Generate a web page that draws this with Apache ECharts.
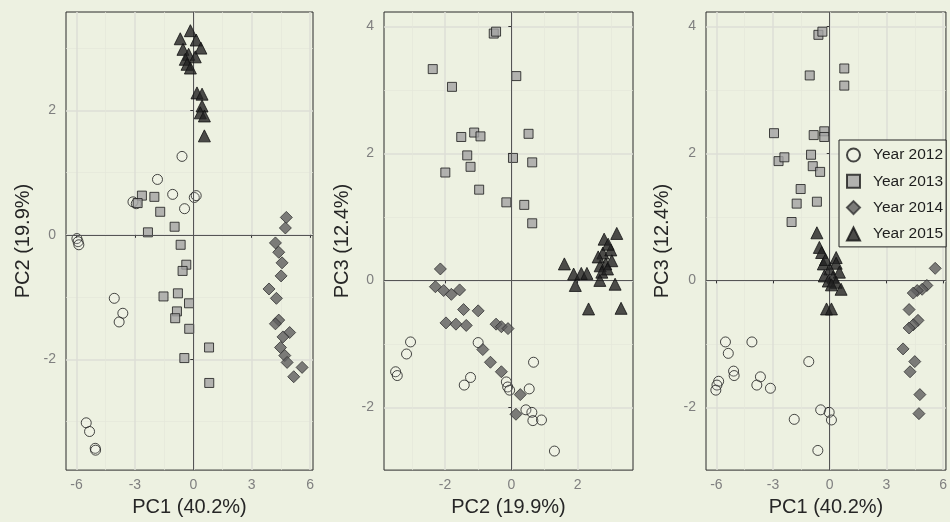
<!DOCTYPE html>
<html>
<head>
<meta charset="utf-8">
<script src="https://cdn.jsdelivr.net/npm/echarts@6/dist/echarts.min.js"></script>
<style>
  html, body { margin: 0; padding: 0; background: #edf1e1; }
  #chart { width: 950px; height: 522px; }
</style>
</head>
<body>
<div id="chart"></div>
<script>
const years = ['Year 2012', 'Year 2013', 'Year 2014', 'Year 2015'];

// panel 1: PC1 (x) vs PC2 (y)
const pc1pc2_2012 = [[-0.58,1.26],[-1.84,0.89],[-1.06,0.65],[-3.1,0.53],[-2.93,0.5],[0.05,0.6],[0.15,0.63],[-0.45,0.42],
  [-5.98,-0.06],[-5.92,-0.11],[-5.88,-0.16],[-4.06,-1.02],[-3.62,-1.26],[-3.81,-1.4],[-5.5,-3.02],[-5.33,-3.16],[-5.04,-3.43],[-5.02,-3.46]];
const pc1pc2_2013 = [[-2.64,0.63],[-2.0,0.61],[-2.86,0.51],[-1.7,0.37],[-2.33,0.04],[-0.96,0.13],[-0.65,-0.16],[-0.36,-0.48],[-0.55,-0.58],
  [-1.53,-0.99],[-0.79,-0.94],[-0.22,-1.1],[-0.84,-1.23],[-0.93,-1.34],[-0.21,-1.51],[0.81,-1.81],[-0.46,-1.98],[0.82,-2.38]];
const pc1pc2_2014 = [[4.78,0.28],[4.73,0.11],[4.22,-0.13],[4.39,-0.28],[4.56,-0.45],[4.51,-0.66],[3.89,-0.87],[4.27,-1.02],[4.39,-1.37],
  [4.22,-1.43],[4.95,-1.57],[4.61,-1.64],[4.48,-1.81],[4.7,-1.94],[4.82,-2.05],[5.59,-2.13],[5.16,-2.28]];
const pc1pc2_2015 = [[-0.15,3.28],[-0.67,3.15],[0.15,3.13],[0.39,3.0],[-0.53,2.98],[-0.24,2.9],[0.1,2.86],[-0.41,2.82],[-0.32,2.74],
  [-0.15,2.68],[0.19,2.28],[0.45,2.26],[0.45,2.07],[0.36,1.96],[0.57,1.91],[0.57,1.59]];

// panel 2: PC2 (x) vs PC3 (y)
const pc2pc3_2012 = [[-3.04,-0.97],[-3.16,-1.16],[-3.49,-1.44],[-3.44,-1.5],[-1.0,-0.98],[0.67,-1.29],[-1.23,-1.53],[-1.42,-1.65],[-0.15,-1.6],
  [-0.11,-1.68],[-0.05,-1.73],[0.54,-1.71],[0.44,-2.04],[0.62,-2.08],[0.65,-2.21],[0.91,-2.2],[1.3,-2.69]];
const pc2pc3_2013 = [[-0.53,3.89],[-0.46,3.92],[-2.37,3.33],[0.15,3.22],[-1.79,3.05],[-1.51,2.26],[-1.12,2.33],[-0.93,2.27],[0.52,2.31],
  [-1.33,1.97],[0.05,1.93],[-1.23,1.79],[0.63,1.86],[-1.99,1.7],[-0.97,1.43],[-0.15,1.23],[0.39,1.19],[0.63,0.9]];
const pc2pc3_2014 = [[-2.14,0.18],[-2.29,-0.1],[-2.04,-0.16],[-1.81,-0.22],[-1.56,-0.15],[-1.44,-0.46],[-1.0,-0.48],[-1.97,-0.67],[-1.67,-0.69],
  [-1.36,-0.71],[-0.46,-0.69],[-0.3,-0.73],[-0.1,-0.76],[-0.86,-1.09],[-0.63,-1.29],[-0.3,-1.44],[0.27,-1.8],[0.14,-2.11]];
const pc2pc3_2015 = [[3.18,0.74],[2.76,0.43],[3.0,0.48],[1.6,0.26],[1.88,0.1],[2.11,0.11],[2.28,0.11],[1.93,-0.08],[2.68,0.23],[2.85,0.26],
  [3.03,0.31],[2.73,0.13],[2.9,0.18],[2.67,0.0],[3.13,-0.06],[2.33,-0.45],[3.31,-0.44],[2.8,0.65],[2.92,0.57],[2.62,0.37]];

// panel 3: PC1 (x) vs PC3 (y)
const pc1pc3_2012 = [[-5.52,-0.97],[-5.37,-1.15],[-4.12,-0.97],[-5.09,-1.43],[-5.06,-1.5],[-5.88,-1.59],[-5.97,-1.65],[-6.03,-1.73],[-3.67,-1.52],
  [-3.86,-1.65],[-3.14,-1.7],[-1.11,-1.28],[-1.88,-2.19],[-0.48,-2.04],[-0.03,-2.08],[0.09,-2.2],[-0.63,-2.68]];
const pc1pc3_2013 = [[-0.6,3.87],[-0.39,3.92],[0.77,3.34],[0.77,3.07],[-1.06,3.23],[-2.95,2.32],[-0.85,2.29],[-0.29,2.35],[-0.29,2.26],
  [-2.71,1.88],[-2.4,1.94],[-0.99,1.98],[-0.9,1.8],[-0.51,1.71],[-1.54,1.44],[-1.75,1.21],[-0.68,1.24],[-2.02,0.92]];
const pc1pc3_2014 = [[5.58,0.19],[5.14,-0.08],[4.89,-0.14],[4.63,-0.16],[4.42,-0.2],[4.2,-0.46],[4.67,-0.63],[4.42,-0.7],[4.2,-0.75],
  [3.88,-1.08],[4.5,-1.28],[4.25,-1.44],[4.77,-1.8],[4.72,-2.1]];
const pc1pc3_2015 = [[-0.68,0.75],[-0.55,0.52],[-0.43,0.44],[0.34,0.36],[-0.34,0.26],[0.34,0.27],[0.0,0.18],[0.51,0.13],[-0.29,0.07],
  [0.17,0.05],[-0.08,-0.01],[0.34,-0.03],[0.09,-0.07],[-0.17,-0.45],[0.09,-0.45],[-0.22,0.33],[0.6,-0.14]];

// axis breaks
const pc1Ticks = [-6, -3, 0, 3, 6];
const pc1Minor = [-4.5, -1.5, 1.5, 4.5];
const pc2Ticks = [-2, 0, 2];
const pc2MinorX = [-3, -1, 1, 3];
const pc2TicksY = [-2, 0, 2];
const pc2MinorY = [-3, -1, 1, 3];
const pc3Ticks = [-2, 0, 2, 4];
const pc3Minor = [-1, 1, 3];

const bg = '#edf1e1';
const font = "'Liberation Sans', Arial, sans-serif";

const panels = [
  { grid: { left: 66, top: 12, width: 247, height: 461 },
    x: [-6.54, 6.15], y: [-3.78, 3.58], xTicks: pc1Ticks, xMinor: pc1Minor, yTicks: pc2TicksY, yMinor: pc2MinorY,
    xName: 'PC1 (40.2%)', yName: 'PC2 (19.9%)', yGap: 33,
    data: [pc1pc2_2012, pc1pc2_2013, pc1pc2_2014, pc1pc2_2015] },
  { grid: { left: 384, top: 12, width: 249, height: 460 },
    x: [-3.84, 3.67], y: [-2.99, 4.23], xTicks: pc2Ticks, xMinor: pc2MinorX, yTicks: pc3Ticks, yMinor: pc3Minor,
    xName: 'PC2 (19.9%)', yName: 'PC3 (12.4%)', yGap: 32,
    data: [pc2pc3_2012, pc2pc3_2013, pc2pc3_2014, pc2pc3_2015] },
  { grid: { left: 706, top: 12, width: 247, height: 461 },
    x: [-6.55, 6.15], y: [-2.99, 4.23], xTicks: pc1Ticks, xMinor: pc1Minor, yTicks: pc3Ticks, yMinor: pc3Minor,
    xName: 'PC1 (40.2%)', yName: 'PC3 (12.4%)', yGap: 34,
    data: [pc1pc3_2012, pc1pc3_2013, pc1pc3_2014, pc1pc3_2015] }
];

// marker look per year
const markers = [
  { symbol: 'circle', symbolSize: 10, itemStyle: { color: 'rgba(255,255,255,0.15)', borderColor: '#1a1a1a', borderWidth: 1 } },
  { symbol: 'rect', symbolSize: 9, itemStyle: { color: '#a3a3a3', borderColor: '#1a1a1a', borderWidth: 1 } },
  { symbol: 'diamond', symbolSize: 12, itemStyle: { color: '#5e5e5e', borderColor: '#333', borderWidth: 1 } },
  { symbol: 'triangle', symbolSize: 12, itemStyle: { color: '#222', borderColor: '#111', borderWidth: 1 } }
];

const grids = [], xAxes = [], yAxes = [], series = [];

function mainAxis(p, i, dir) {
  const isX = dir === 'x';
  return {
    type: 'value', gridIndex: i,
    min: isX ? p.x[0] : p.y[0], max: isX ? p.x[1] : p.y[1],
    position: isX ? 'bottom' : 'left',
    name: isX ? p.xName : p.yName,
    nameLocation: 'middle',
    nameGap: isX ? 26 : p.yGap,
    nameTextStyle: { fontFamily: font, fontSize: 20, color: '#262626' },
    axisLine: { show: false },
    axisTick: { show: true, length: 3, customValues: isX ? p.xTicks : p.yTicks, lineStyle: { color: '#333', width: 1 } },
    axisLabel: { customValues: isX ? p.xTicks : p.yTicks, fontFamily: font, fontSize: 14, color: '#7f7f7f', margin: isX ? 8 : 10 },
    splitLine: { show: true, lineStyle: { color: '#dcded6', width: 1.5 } }
  };
}

function minorAxis(p, i, dir) {
  const isX = dir === 'x';
  return {
    type: 'value', gridIndex: i,
    min: isX ? p.x[0] : p.y[0], max: isX ? p.x[1] : p.y[1],
    position: isX ? 'top' : 'right',
    axisLine: { show: false },
    axisTick: { show: false, customValues: isX ? p.xMinor : p.yMinor },
    axisLabel: { show: false },
    splitLine: { show: true, lineStyle: { color: '#e4e7da', width: 0.7 } }
  };
}

panels.forEach((p, i) => {
  grids.push(Object.assign({ show: true, borderColor: '#2b2b2b', borderWidth: 1, backgroundColor: 'transparent' }, p.grid));
  xAxes[i] = mainAxis(p, i, 'x');
  yAxes[i] = mainAxis(p, i, 'y');
  xAxes[i + 3] = minorAxis(p, i, 'x');
  yAxes[i + 3] = minorAxis(p, i, 'y');
  // zero reference lines
  series.push({
    type: 'scatter', name: 'zero' + i, xAxisIndex: i, yAxisIndex: i, data: [], z: 1, silent: true,
    markLine: {
      silent: true, symbol: 'none', label: { show: false }, animation: false,
      lineStyle: { color: '#555', width: 1, type: 'solid' },
      data: [{ xAxis: 0 }, { yAxis: 0 }]
    }
  });
  p.data.forEach((d, k) => {
    series.push(Object.assign({
      type: 'scatter', name: years[k], xAxisIndex: i, yAxisIndex: i, data: d, z: 3 + k
    }, markers[k]));
  });
});

const chart = echarts.init(document.getElementById('chart'), null, { renderer: 'canvas' });
chart.setOption({
  backgroundColor: bg,
  animation: false,
  grid: grids,
  xAxis: xAxes,
  yAxis: yAxes,
  legend: {
    data: years,
    orient: 'vertical',
    left: 839, top: 140,
    padding: [7, 3, 5, 7],
    itemWidth: 13, itemHeight: 13, itemGap: 10.3,
    backgroundColor: bg,
    borderColor: '#222', borderWidth: 1,
    textStyle: { fontFamily: font, fontSize: 15.5, lineHeight: 13, color: '#1e1e1e', padding: [0, 0, 0, 8] }
  },
  series: series
});
</script>
</body>
</html>
